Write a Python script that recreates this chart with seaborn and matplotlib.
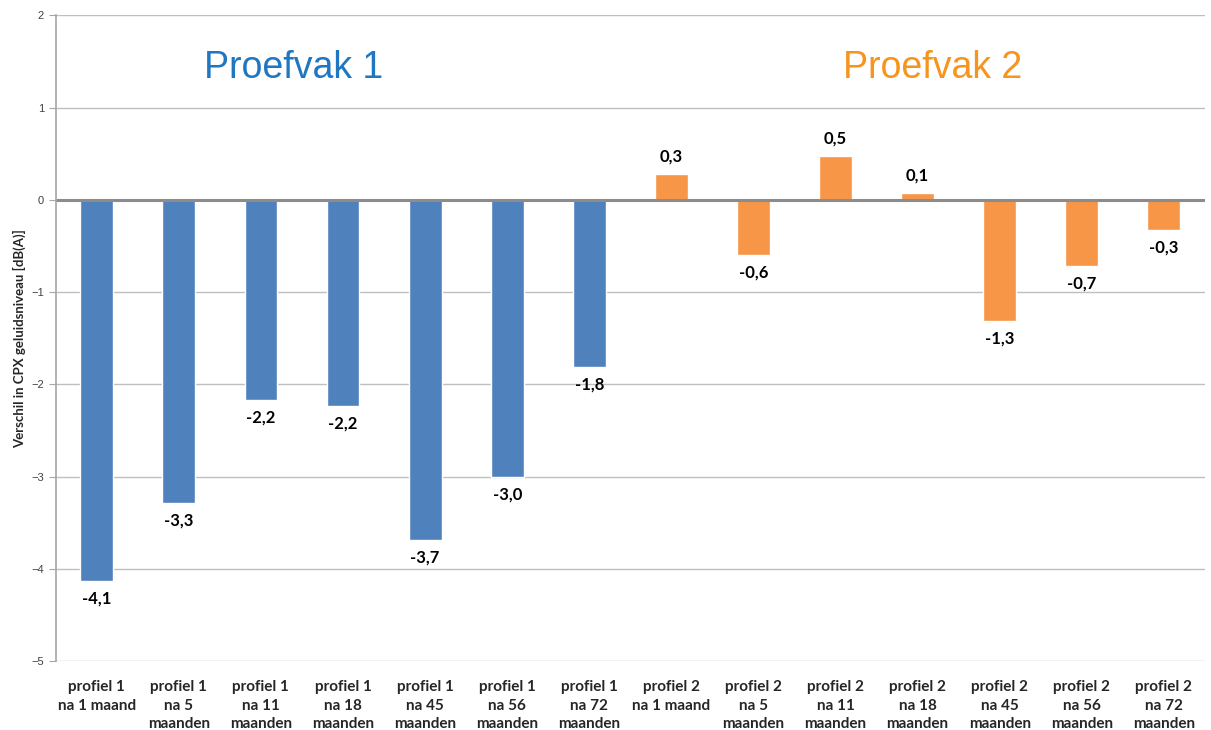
import seaborn as sns
import pandas as pd
import matplotlib.pyplot as plt

# categories and values
labels = ["profiel 1\nna 1 maand", "profiel 1\nna 5\nmaanden", "profiel 1\nna 11\nmaanden",
          "profiel 1\nna 18\nmaanden", "profiel 1\nna 45\nmaanden", "profiel 1\nna 56\nmaanden",
          "profiel 1\nna 72\nmaanden",
          "profiel 2\nna 1 maand", "profiel 2\nna 5\nmaanden", "profiel 2\nna 11\nmaanden",
          "profiel 2\nna 18\nmaanden", "profiel 2\nna 45\nmaanden", "profiel 2\nna 56\nmaanden",
          "profiel 2\nna 72\nmaanden"]
values = [-4.13, -3.29, -2.17, -2.23, -3.69, -3.0, -1.81,
          0.28, -0.6, 0.47, 0.07, -1.31, -0.72, -0.33]
groups = ["Proefvak 1"] * 7 + ["Proefvak 2"] * 7

df = pd.DataFrame({"label": labels, "value": values, "group": groups})

sns.set_style("white")
plt.rcParams["font.family"] = ["Lato", "DejaVu Sans"]

fig = plt.figure(figsize=(12.11, 7.30), dpi=100)
ax = fig.add_axes([0.046, 0.0945, 0.949, 0.8845])

sns.barplot(data=df, x="label", y="value", hue="group",
            palette={"Proefvak 1": "#4F81BD", "Proefvak 2": "#F79646"},
            dodge=False, width=0.4, legend=False, ax=ax, saturation=1)

for c in ax.containers:
    vals = [b.get_height() for b in c]
    ax.bar_label(c, labels=[f"{v:.1f}".replace(".", ",") for v in vals],
                 padding=7, fontsize=12, fontweight="bold", color="black")

ax.set_ylim(-5, 2)
ax.set_xlim(-0.5, 13.5)
ax.set_yticks(range(-5, 3))
ax.grid(axis="y", color="#BFBFBF", linewidth=1)
ax.set_axisbelow(True)
ax.axhline(0, color="#8C8C8C", linewidth=2.2, zorder=1)

for s in ["top", "right", "bottom"]:
    ax.spines[s].set_visible(False)
ax.spines["left"].set_color("#A6A6A6")
ax.spines["left"].set_linewidth(1.2)

ax.tick_params(axis="y", length=5, color="#A6A6A6", labelsize=8,
               labelcolor="#404040", left=True)
for t in ax.get_yticklabels():
    t.set_family("Liberation Sans")
ax.tick_params(axis="x", length=0, pad=14)
ax.set_xticks(range(len(labels)))
ax.set_xticklabels(labels, fontsize=11, fontweight="bold", linespacing=1.4)

ax.set_xlabel("")
ax.set_ylabel("Verschil in CPX geluidsniveau [dB(A)]", fontsize=9.5, fontweight="bold",
              labelpad=4)

ax.text(2.4, 1.43, "Proefvak 1", fontsize=27, color="#1F77C4",
        family="Liberation Sans", ha="center", va="center")
ax.text(10.18, 1.43, "Proefvak 2", fontsize=27, color="#F7941D",
        family="Liberation Sans", ha="center", va="center")

fig.savefig("out.png", dpi=100)
